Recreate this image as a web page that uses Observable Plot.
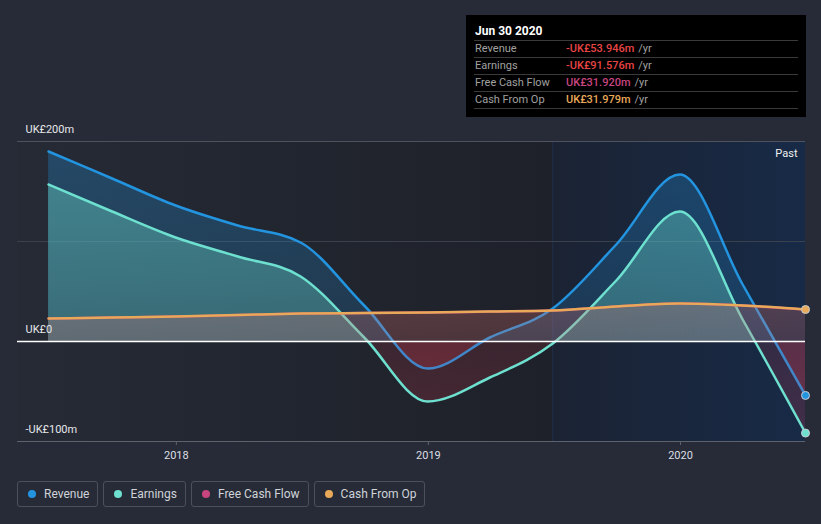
<!DOCTYPE html>
<html>
<head>
<meta charset="utf-8">
<script src="https://cdn.jsdelivr.net/npm/d3@7"></script>
<script src="https://cdn.jsdelivr.net/npm/@observablehq/plot@0.6"></script>
<style>
  html, body { margin: 0; padding: 0; background: #262b37; }
  body { font-family: Roboto, "Noto Sans", sans-serif; }
  #wrap { position: relative; width: 821px; height: 524px; overflow: hidden; background: #262b37; }
  #chart { position: absolute; left: 0; top: 0; }
  #tip { position: absolute; left: 466px; top: 15px; width: 340px; height: 102px; background: #000; box-sizing: border-box; padding: 8px 8px 0 8px; }
  #tip .title { color: #fff; font-weight: bold; font-size: 12px; height: 17px; line-height: 17px; padding-left: 1px; }
  #tip .row { border-top: 1px solid #3a3a3a; height: 16px; line-height: 16px; font-size: 11px; display: flex; }
  #tip .row:last-child { border-bottom: 1px solid #3a3a3a; }
  #tip .lab { width: 91px; color: #a0a0a0; padding-left: 1px; }
  #tip .val { font-weight: 500; }
  #tip .unit { color: #a0a0a0; margin-left: 4px; }
  #legend { position: absolute; left: 17px; top: 481px; display: flex; gap: 5px; }
  .lg { height: 26px; border: 1px solid #4a505c; border-radius: 3px; box-sizing: border-box; display: flex; align-items: center; padding: 0 8px 0 10px; color: #d0d3d8; font-size: 12px; }
  .lg .dot { width: 8px; height: 8px; border-radius: 50%; margin-right: 8px; }
</style>
</head>
<body>
<div id="wrap">
  <div id="chart"></div>
  <div id="tip"></div>
  <div id="legend"></div>
</div>
<script>
// ---- data (UK£ m, trailing twelve months) ----
const dates    = ["2017-06-30","2017-09-30","2017-12-31","2018-03-31","2018-06-30","2018-09-30","2018-12-31","2019-03-31","2019-06-30","2019-09-30","2019-12-31","2020-03-31","2020-06-30"];
const revenue  = [190, 163, 136, 116, 99, 36, -27, 4, 33, 97, 167, 57, -53.946];
const earnings = [157, 130, 104, 85, 65, 4, -60, -36, -2, 61, 130, 22, -91.576];
const fcf      = [22.9, 23.9, 24.9, 26.4, 27.9, 28.4, 28.9, 29.9, 30.9, 34.9, 37.9, 35.9, 31.92];
const cfo      = [23, 24, 25, 26.5, 28, 28.5, 29, 30, 31, 35, 38, 36, 31.979];
const seriesNames  = ["Revenue", "Earnings", "Free Cash Flow", "Cash From Op"];
const seriesColors = ["#2394df", "#6ee0cf", "#c8457f", "#e8a959"];
const xDomain   = ["2017-05-16", "2020-06-30"];
const yDomain   = [-100, 200];
const yTicks    = [200, 0, -100];
const yTickLabels = ["UK£200m", "UK£0", "-UK£100m"];
const xTicks    = ["2018-01-01", "2019-01-01", "2020-01-01"];
const pastStart = dates[8];
const tipTitle  = "Jun 30 2020";
const tipValues = ["-UK£53.946m", "-UK£91.576m", "UK£31.920m", "UK£31.979m"];
const tipColors = ["#e84545", "#e84545", "#c8457f", "#e8a959"];

const parse = d3.utcParse("%Y-%m-%d");
const rows = dates.map((d, i) => ({date: parse(d), revenue: revenue[i], earnings: earnings[i], fcf: fcf[i], cfo: cfo[i]}));
const last = rows[rows.length - 1];
const curve = "monotone-x";

const chart = Plot.plot({
  width: 821, height: 470,
  marginLeft: 17, marginRight: 16, marginTop: 141, marginBottom: 29,
  style: {background: "transparent", fontFamily: "Roboto, sans-serif", fontSize: "11px", color: "#dcdfe4"},
  x: {type: "utc", domain: xDomain.map(parse)},
  y: {domain: yDomain, axis: null},
  marks: [
    // backgrounds
    Plot.rect([0], {x1: () => parse(xDomain[0]), x2: () => parse(pastStart), y1: yDomain[0], y2: yDomain[1], fill: "url(#bgGrad)"}),
    Plot.rect([0], {x1: () => parse(pastStart), x2: () => parse(xDomain[1]), y1: yDomain[0], y2: yDomain[1], fill: "url(#pastGrad)"}),
    Plot.ruleX([parse(pastStart)], {y1: yDomain[0], y2: yDomain[1], stroke: "#1f2b42", strokeWidth: 1.5}),
    // grid
    Plot.ruleY([100], {stroke: "#3a404c", strokeWidth: 1}),
    Plot.ruleY([200], {stroke: "#4d525e", strokeWidth: 1}),
    Plot.ruleY([-100], {stroke: "#5d626d", strokeWidth: 1}),
    // areas + lines
    Plot.areaY(rows, {x: "date", y1: 0, y2: "revenue", curve, fill: "url(#gRev)"}),
    Plot.lineY(rows, {x: "date", y: "revenue", curve, stroke: seriesColors[0], strokeWidth: 2.5}),
    Plot.areaY(rows, {x: "date", y1: 0, y2: "earnings", curve, fill: "url(#gEarn)"}),
    Plot.lineY(rows, {x: "date", y: "earnings", curve, stroke: seriesColors[1], strokeWidth: 2.5}),
    Plot.areaY(rows, {x: "date", y1: 0, y2: "fcf", curve, fill: "url(#gFcf)"}),
    Plot.areaY(rows, {x: "date", y1: 0, y2: "cfo", curve, fill: "url(#gCfo)"}),
    Plot.lineY(rows, {x: "date", y: "fcf", curve, stroke: seriesColors[2], strokeWidth: 2.5}),
    Plot.lineY(rows, {x: "date", y: "cfo", curve, stroke: seriesColors[3], strokeWidth: 2.5}),
    Plot.ruleY([0], {stroke: "#ffffff", strokeWidth: 1.3}),
    // end dots
    Plot.dot([last], {x: "date", y: "revenue", r: 4, fill: seriesColors[0], stroke: "#c8ccd2", strokeWidth: 1}),
    Plot.dot([last], {x: "date", y: "earnings", r: 4, fill: seriesColors[1], stroke: "#c8ccd2", strokeWidth: 1}),
    Plot.dot([last], {x: "date", y: "cfo", r: 4, fill: seriesColors[3], stroke: "#c8ccd2", strokeWidth: 1}),
    // labels
    Plot.text(yTicks, {x: () => parse(xDomain[0]), y: d => d, text: (d, i) => yTickLabels[i], textAnchor: "start", dx: 8, dy: -12, fill: "#e6e8eb", fontSize: 11}),
    Plot.text(["Past"], {x: () => parse(xDomain[1]), y: () => yDomain[1], text: d => d, textAnchor: "end", dx: -8, dy: 12, fill: "#f0f0f0", fontSize: 11}),
    Plot.axisX(xTicks.map(parse), {tickFormat: "%Y", tickSize: 4, tickPadding: 6, stroke: "#5d626d", fill: "#dcdfe4", fontSize: 11, label: null})
  ]
});

// gradients (defined in pixel space from the y scale)
const ys = chart.scale("y");
const yTop = ys.apply(yDomain[1]), yBot = ys.apply(yDomain[0]);
const zf = (ys.apply(0) - yTop) / (yBot - yTop);
const svg = d3.select(chart.tagName.toLowerCase() === "svg" ? chart : chart.querySelector("svg"));
const defs = svg.insert("defs", ":first-child");
function vgrad(id, stops) {
  const g = defs.append("linearGradient").attr("id", id).attr("gradientUnits", "userSpaceOnUse")
    .attr("x1", 0).attr("x2", 0).attr("y1", yTop).attr("y2", yBot);
  stops.forEach(([o, c, a]) => g.append("stop").attr("offset", o).attr("stop-color", c).attr("stop-opacity", a));
}
const red = "#e23a4e";
vgrad("gRev",  [[0, seriesColors[0], 0.30], [zf, seriesColors[0], 0.18], [zf, red, 0.22], [1, red, 0.28]]);
vgrad("gEarn", [[0, seriesColors[1], 0.42], [zf, seriesColors[1], 0.28], [zf, red, 0.14], [1, red, 0.22]]);
vgrad("gFcf",  [[0, seriesColors[2], 0.30], [zf, seriesColors[2], 0.16], [zf, red, 0.1], [1, red, 0.1]]);
vgrad("gCfo",  [[0, seriesColors[3], 0.30], [zf, seriesColors[3], 0.10], [zf, red, 0.1], [1, red, 0.1]]);
const bg = defs.append("linearGradient").attr("id", "bgGrad").attr("x1", 0).attr("x2", 1).attr("y1", 0).attr("y2", 0);
bg.append("stop").attr("offset", 0).attr("stop-color", "#252a35");
bg.append("stop").attr("offset", 1).attr("stop-color", "#1e2129");
const pg = defs.append("linearGradient").attr("id", "pastGrad").attr("x1", 0).attr("x2", 1).attr("y1", 0).attr("y2", 0);
pg.append("stop").attr("offset", 0).attr("stop-color", "#1b2333");
pg.append("stop").attr("offset", 1).attr("stop-color", "#172a46");

document.getElementById("chart").append(chart);

// tooltip box
const tip = d3.select("#tip");
tip.append("div").attr("class", "title").text(tipTitle);
seriesNames.forEach((n, i) => {
  const r = tip.append("div").attr("class", "row");
  r.append("span").attr("class", "lab").text(n);
  r.append("span").attr("class", "val").style("color", tipColors[i]).text(tipValues[i]);
  r.append("span").attr("class", "unit").text("/yr");
});

// legend
const lg = d3.select("#legend");
seriesNames.forEach((n, i) => {
  const b = lg.append("div").attr("class", "lg");
  b.append("span").attr("class", "dot").style("background", seriesColors[i]);
  b.append("span").text(n);
});
</script>
</body>
</html>
